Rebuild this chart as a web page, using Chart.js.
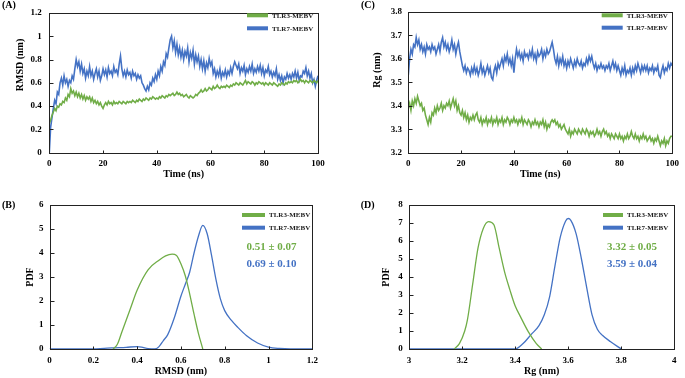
<!DOCTYPE html>
<html><head><meta charset="utf-8">
<script src="https://cdn.jsdelivr.net/npm/chart.js@4.4.0/dist/chart.umd.min.js"></script>
<style>
html,body{margin:0;padding:0;background:#fff;width:685px;height:378px;overflow:hidden}
canvas{position:absolute;display:block}
</style></head><body>
<canvas id="cA" width="340" height="185" style="left:0;top:0"></canvas>
<canvas id="cC" width="345" height="185" style="left:340px;top:0"></canvas>
<canvas id="cB" width="340" height="193" style="left:0;top:185px"></canvas>
<canvas id="cD" width="345" height="193" style="left:340px;top:185px"></canvas>
<script>
// ---------- DATA ----------
const seriesNames = ['TLR3-MEBV', 'TLR7-MEBV'];
const timeNs = Array.from({length: 201}, (_, i) => i * 0.5); // 0..100 ns, 0.5 ns step

const rmsdTLR3 = [
0.25,0.28,0.32,0.35,0.38,0.36,0.40,0.39,0.42,0.41,
0.44,0.43,0.47,0.45,0.50,0.48,0.55,0.51,0.53,0.49,
0.52,0.48,0.51,0.47,0.50,0.46,0.49,0.45,0.48,0.46,
0.48,0.44,0.47,0.43,0.45,0.42,0.44,0.41,0.43,0.40,
0.38,0.41,0.43,0.41,0.44,0.42,0.43,0.41,0.44,0.42,
0.43,0.42,0.44,0.43,0.42,0.44,0.43,0.42,0.44,0.43,
0.44,0.43,0.45,0.44,0.43,0.45,0.44,0.46,0.45,0.44,
0.46,0.45,0.47,0.46,0.45,0.47,0.46,0.48,0.47,0.46,
0.47,0.46,0.48,0.47,0.49,0.48,0.47,0.49,0.48,0.50,
0.49,0.50,0.51,0.49,0.50,0.52,0.50,0.51,0.49,0.50,
0.48,0.49,0.50,0.48,0.47,0.49,0.48,0.47,0.48,0.50,
0.49,0.51,0.52,0.54,0.52,0.53,0.55,0.53,0.54,0.56,
0.55,0.54,0.57,0.55,0.56,0.58,0.56,0.55,0.57,0.56,
0.57,0.56,0.58,0.57,0.56,0.58,0.57,0.59,0.58,0.60,
0.59,0.58,0.60,0.59,0.58,0.60,0.62,0.59,0.61,0.60,
0.59,0.61,0.60,0.58,0.60,0.59,0.61,0.60,0.59,0.60,
0.58,0.60,0.59,0.58,0.60,0.59,0.58,0.60,0.59,0.58,
0.57,0.59,0.58,0.60,0.59,0.58,0.60,0.59,0.61,0.60,
0.61,0.60,0.62,0.61,0.62,0.60,0.61,0.63,0.61,0.62,
0.60,0.62,0.61,0.60,0.62,0.61,0.60,0.62,0.61,0.60,
0.62];

const rmsdTLR7 = [
0.00,0.22,0.30,0.38,0.45,0.42,0.52,0.50,0.60,0.64,
0.58,0.66,0.60,0.63,0.57,0.62,0.60,0.66,0.63,0.72,
0.80,0.74,0.78,0.70,0.76,0.68,0.72,0.64,0.70,0.66,
0.74,0.66,0.70,0.63,0.68,0.72,0.65,0.70,0.62,0.66,
0.72,0.67,0.71,0.65,0.73,0.68,0.70,0.66,0.74,0.69,
0.71,0.67,0.76,0.83,0.72,0.66,0.70,0.65,0.71,0.67,
0.69,0.64,0.70,0.66,0.68,0.63,0.67,0.64,0.66,0.60,
0.58,0.55,0.53,0.57,0.54,0.60,0.58,0.64,0.61,0.67,
0.63,0.70,0.66,0.74,0.70,0.78,0.75,0.85,0.82,0.90,
0.97,1.00,0.90,0.96,0.86,0.93,0.84,0.90,0.82,0.88,
0.80,0.87,0.83,0.90,0.78,0.86,0.81,0.88,0.76,0.84,
0.78,0.83,0.74,0.80,0.72,0.79,0.70,0.77,0.73,0.81,
0.75,0.78,0.68,0.72,0.65,0.70,0.66,0.72,0.64,0.69,
0.66,0.71,0.65,0.70,0.67,0.73,0.68,0.74,0.78,0.75,
0.72,0.76,0.68,0.73,0.70,0.75,0.67,0.72,0.69,0.74,
0.70,0.76,0.68,0.72,0.69,0.74,0.70,0.75,0.68,0.73,
0.66,0.71,0.69,0.74,0.67,0.70,0.65,0.69,0.66,0.72,
0.63,0.67,0.62,0.66,0.60,0.65,0.63,0.68,0.64,0.67,
0.63,0.68,0.65,0.70,0.64,0.69,0.62,0.66,0.65,0.70,
0.68,0.73,0.66,0.70,0.64,0.68,0.60,0.63,0.57,0.62,
0.66];

const rgTLR3 = [
3.39,3.41,3.38,3.42,3.40,3.43,3.41,3.44,3.42,3.40,
3.41,3.38,3.39,3.36,3.34,3.32,3.35,3.33,3.37,3.36,
3.39,3.37,3.40,3.38,3.39,3.41,3.38,3.40,3.39,3.41,
3.40,3.42,3.39,3.41,3.43,3.40,3.42,3.38,3.40,3.37,
3.36,3.38,3.35,3.37,3.34,3.36,3.33,3.35,3.34,3.36,
3.34,3.36,3.37,3.34,3.33,3.35,3.32,3.34,3.33,3.35,
3.32,3.34,3.33,3.35,3.32,3.34,3.33,3.35,3.32,3.34,
3.33,3.35,3.32,3.34,3.33,3.35,3.34,3.32,3.34,3.33,
3.35,3.33,3.34,3.32,3.34,3.33,3.35,3.32,3.34,3.33,
3.32,3.34,3.33,3.31,3.33,3.32,3.34,3.32,3.33,3.31,
3.33,3.32,3.34,3.31,3.33,3.30,3.32,3.31,3.33,3.34,
3.33,3.34,3.32,3.33,3.31,3.32,3.30,3.31,3.32,3.30,
3.29,3.28,3.30,3.27,3.29,3.28,3.30,3.29,3.28,3.30,
3.29,3.28,3.30,3.29,3.28,3.30,3.29,3.27,3.29,3.28,
3.29,3.27,3.28,3.30,3.28,3.29,3.27,3.29,3.30,3.28,
3.29,3.27,3.28,3.26,3.28,3.27,3.26,3.28,3.27,3.26,
3.28,3.26,3.27,3.25,3.27,3.26,3.28,3.26,3.27,3.29,
3.27,3.26,3.28,3.26,3.27,3.25,3.27,3.26,3.28,3.26,
3.27,3.25,3.26,3.27,3.25,3.26,3.24,3.26,3.25,3.27,
3.25,3.23,3.25,3.24,3.26,3.23,3.25,3.24,3.26,3.27,
3.27];

const rgTLR7 = [
3.53,3.60,3.64,3.62,3.66,3.65,3.69,3.66,3.68,3.64,
3.66,3.63,3.65,3.62,3.66,3.64,3.65,3.63,3.66,3.64,
3.65,3.62,3.64,3.66,3.63,3.67,3.69,3.65,3.67,3.64,
3.66,3.63,3.65,3.68,3.64,3.66,3.62,3.65,3.67,3.63,
3.60,3.57,3.55,3.57,3.54,3.56,3.55,3.53,3.56,3.54,
3.57,3.54,3.56,3.53,3.55,3.58,3.54,3.56,3.53,3.55,
3.57,3.54,3.56,3.52,3.51,3.55,3.57,3.54,3.58,3.56,
3.58,3.60,3.57,3.61,3.59,3.62,3.58,3.60,3.57,3.60,
3.54,3.60,3.64,3.61,3.63,3.60,3.62,3.59,3.63,3.61,
3.62,3.60,3.63,3.61,3.64,3.60,3.62,3.59,3.63,3.61,
3.62,3.64,3.60,3.63,3.61,3.64,3.62,3.63,3.65,3.67,
3.64,3.60,3.58,3.61,3.57,3.60,3.58,3.61,3.57,3.59,
3.56,3.59,3.57,3.60,3.58,3.56,3.59,3.57,3.60,3.58,
3.57,3.59,3.56,3.58,3.57,3.60,3.58,3.61,3.59,3.61,
3.58,3.56,3.58,3.55,3.57,3.56,3.58,3.56,3.57,3.55,
3.57,3.56,3.58,3.55,3.57,3.59,3.56,3.58,3.55,3.57,
3.55,3.53,3.56,3.54,3.57,3.53,3.55,3.54,3.56,3.53,
3.56,3.54,3.57,3.55,3.58,3.56,3.54,3.57,3.55,3.57,
3.55,3.57,3.54,3.56,3.55,3.57,3.54,3.56,3.55,3.57,
3.53,3.52,3.55,3.57,3.54,3.56,3.55,3.58,3.56,3.58,
3.57];

// PDF of RMSD (panel B)
const pdfRmsdX3 = [0.29,0.31,0.33,0.35,0.37,0.40,0.45,0.50,0.53,0.56,0.58,0.60,0.62,0.64,0.66,0.68,0.70];
const pdfRmsdY3 = [0,0.2,0.7,1.2,1.7,2.45,3.3,3.7,3.88,3.95,3.9,3.55,3.05,2.3,1.45,0.65,0];
const pdfRmsdX7 = [0,0.2,0.25,0.3,0.35,0.4,0.42,0.45,0.48,0.5,0.52,0.54,0.57,0.6,0.62,0.64,0.66,0.68,0.7,0.72,0.74,0.76,0.78,0.8,0.83,0.86,0.9,0.95,1.0,1.05,1.1,1.2];
const pdfRmsdY7 = [0,0,0.03,0.05,0.07,0.1,0.08,0.02,0,0.1,0.35,0.6,1.3,2.2,2.7,3.2,4.0,4.7,5.15,4.8,3.9,2.9,2.1,1.6,1.2,0.9,0.55,0.25,0.08,0.02,0,0];
// PDF of Rg (panel D)
const pdfRgX3 = [3.17,3.19,3.21,3.22,3.24,3.26,3.28,3.30,3.32,3.34,3.36,3.38,3.40,3.42,3.45,3.48,3.50];
const pdfRgY3 = [0,0.3,1.0,1.6,3.6,5.6,6.7,7.08,6.9,5.6,4.3,3.3,2.4,1.8,0.95,0.3,0];
const pdfRgX7 = [3.0,3.40,3.43,3.46,3.49,3.51,3.53,3.55,3.57,3.59,3.60,3.61,3.63,3.65,3.67,3.69,3.71,3.73,3.76,3.80];
const pdfRgY7 = [0,0,0.3,0.8,1.3,1.9,2.9,4.6,6.2,7.1,7.25,7.15,6.4,5.0,3.4,1.9,1.1,0.75,0.4,0];

const statsRmsd = ['0.51 \u00b1 0.07', '0.69 \u00b1 0.10'];
const statsRg = ['3.32 \u00b1 0.05', '3.59 \u00b1 0.04'];

// ---------- STYLE ----------
const GREEN = '#70AD47', BLUE = '#4472C4';
const SERIF = '"Liberation Serif", "Times New Roman", serif';

const deco = {
  id: 'deco',
  afterDraw(chart, args, o) {
    const {ctx, chartArea: a} = chart;
    ctx.save();
    ctx.strokeStyle = '#222'; ctx.lineWidth = 1;
    const L = Math.round(a.left) + 0.5, T = Math.round(a.top) + 0.5, R = Math.round(a.right) + 0.5, B = Math.round(a.bottom) + 0.5;
    ctx.strokeRect(L, T, R - L, B - T);
    const xs = chart.scales.x, ys = chart.scales.y;
    ctx.beginPath();
    xs.ticks.forEach(t => { const px = Math.round(xs.getPixelForValue(t.value)) + 0.5; ctx.moveTo(px, B); ctx.lineTo(px, B - 3); });
    ys.ticks.forEach(t => { const py = Math.round(ys.getPixelForValue(t.value)) + 0.5; ctx.moveTo(L, py); ctx.lineTo(L + 4, py); });
    ctx.stroke();
    ctx.fillStyle = '#000'; ctx.textBaseline = 'middle'; ctx.textAlign = 'left';
    ctx.font = 'bold 10px ' + SERIF;
    ctx.fillText(o.tag, o.tagX, o.tagY);
    if (o.yTitle) {
      ctx.save(); ctx.translate(o.yTitle.x, o.yTitle.y); ctx.rotate(-Math.PI / 2);
      ctx.textAlign = 'center'; ctx.font = 'bold 10px ' + SERIF; ctx.fillText(o.yTitle.text, 0, 0); ctx.restore();
    }
    chart.data.datasets.forEach((ds, i) => {
      const y = o.legY[i];
      ctx.strokeStyle = ds.borderColor; ctx.lineWidth = 4;
      ctx.beginPath(); ctx.moveTo(o.legX, y); ctx.lineTo(o.legX + o.legW, y); ctx.stroke();
      ctx.fillStyle = '#222'; ctx.font = 'bold 7px ' + SERIF; ctx.textAlign = 'left';
      ctx.fillText(ds.label, o.legX + o.legW + 4, y + 0.5);
    });
    if (o.stats) {
      ctx.font = 'bold 11px ' + SERIF; ctx.textAlign = 'center';
      o.stats.forEach((s, i) => { ctx.fillStyle = chart.data.datasets[i].borderColor; ctx.fillText(s, o.statX, o.statY[i]); });
    }
    ctx.restore();
  }
};

const fmt = v => String(+Number(v).toFixed(2));

function makeChart(id, datasets, cfg) {
  const c = document.getElementById(id);
  return new Chart(c, {
    type: 'line',
    data: {datasets},
    plugins: [deco],
    options: {
      responsive: false, animation: false, parsing: true,
      layout: {padding: {left: 0, top: cfg.top, right: c.width - cfg.right, bottom: 0}},
      plugins: {legend: {display: false}, tooltip: {enabled: false}, deco: cfg.deco},
      elements: {point: {radius: 0}},
      scales: {
        x: {
          type: 'linear', min: cfg.xMin, max: cfg.xMax,
          grid: {display: false, drawTicks: false}, border: {display: false},
          ticks: {stepSize: cfg.xStep, color: '#000', padding: 6, font: {family: SERIF, size: 9, weight: 'bold'}, callback: fmt, maxRotation: 0, autoSkip: false},
          title: {display: true, text: cfg.xTitle, color: '#000', padding: {top: 0, bottom: cfg.xTitlePad}, font: {family: SERIF, size: 10, weight: 'bold'}},
          afterFit(s) { s.height = c.height - cfg.bottom; }
        },
        y: {
          type: 'linear', min: cfg.yMin, max: cfg.yMax,
          grid: {display: false, drawTicks: false}, border: {display: false},
          ticks: {stepSize: cfg.yStep, color: '#000', padding: cfg.yTickPad, font: {family: SERIF, size: 9, weight: 'bold'}, callback: fmt, autoSkip: false},
          title: cfg.yTitleLib ? {display: true, text: cfg.yTitleLib, color: '#000', padding: {top: cfg.yTitlePad, bottom: 0}, font: {family: SERIF, size: 10, weight: 'bold'}} : {display: false},
          afterFit(s) { s.width = cfg.left; }
        }
      }
    }
  });
}

function tsSets(a3, a7) {
  return [
    {label: seriesNames[0], data: timeNs.map((t, i) => ({x: t, y: a3[i]})), borderColor: GREEN, borderWidth: 1.6, tension: 0},
    {label: seriesNames[1], data: timeNs.map((t, i) => ({x: t, y: a7[i]})), borderColor: BLUE, borderWidth: 1.6, tension: 0}
  ];
}
function pdfSets(x3, y3, x7, y7) {
  return [
    {label: seriesNames[0], data: x3.map((x, i) => ({x, y: y3[i]})), borderColor: GREEN, borderWidth: 1.3, cubicInterpolationMode: 'monotone'},
    {label: seriesNames[1], data: x7.map((x, i) => ({x, y: y7[i]})), borderColor: BLUE, borderWidth: 1.3, cubicInterpolationMode: 'monotone'}
  ];
}

makeChart('cA', tsSets(rmsdTLR3, rmsdTLR7), {
  left: 49.3, right: 318, top: 6.7, bottom: 152.7,
  xMin: 0, xMax: 100, xStep: 20, yMin: 0, yMax: 1.2, yStep: 0.2, yTickPad: 7.5,
  xTitle: 'Time (ns)', xTitlePad: 5,
  deco: {tag: '(A)', tagX: 2, tagY: 5.5, yTitle: {text: 'RMSD (nm)', x: 20, y: 65}, legX: 247, legW: 21, legY: [15.3, 28.3]}
});
makeChart('cC', tsSets(rgTLR3, rgTLR7), {
  left: 68.3, right: 334.3, top: 6.7, bottom: 152.7,
  xMin: 0, xMax: 100, xStep: 20, yMin: 3.2, yMax: 3.8, yStep: 0.1, yTickPad: 6.3,
  xTitle: 'Time (ns)', xTitlePad: 5,
  deco: {tag: '(C)', tagX: 21, tagY: 5.5, yTitle: {text: 'Rg (nm)', x: 37.5, y: 70}, legX: 261.7, legW: 21, legY: [15.3, 27.7]}
});
makeChart('cB', pdfSets(pdfRmsdX3, pdfRmsdY3, pdfRmsdX7, pdfRmsdY7), {
  left: 49.5, right: 312.3, top: 20, bottom: 164,
  xMin: 0, xMax: 1.2, xStep: 0.2, yMin: 0, yMax: 6, yStep: 1, yTickPad: 6,
  xTitle: 'RMSD (nm)', xTitlePad: 0.3, yTitleLib: 'PDF', yTitlePad: 24,
  deco: {tag: '(B)', tagX: 2, tagY: 20, legX: 242, legW: 23, legY: [30, 42.7], stats: statsRmsd, statX: 271.5, statY: [61.7, 79.3]}
});
makeChart('cD', pdfSets(pdfRgX3, pdfRgY3, pdfRgX7, pdfRgY7), {
  left: 69, right: 334.3, top: 20, bottom: 164,
  xMin: 3, xMax: 4, xStep: 0.2, yMin: 0, yMax: 8, yStep: 1, yTickPad: 6.3,
  xTitle: 'Rg (nm)', xTitlePad: 0.3, yTitleLib: 'PDF', yTitlePad: 40.3,
  deco: {tag: '(D)', tagX: 20.7, tagY: 20, legX: 263, legW: 20, legY: [30, 42.7], stats: statsRg, statX: 292, statY: [61.7, 79.3]}
});
</script>
</body></html>
